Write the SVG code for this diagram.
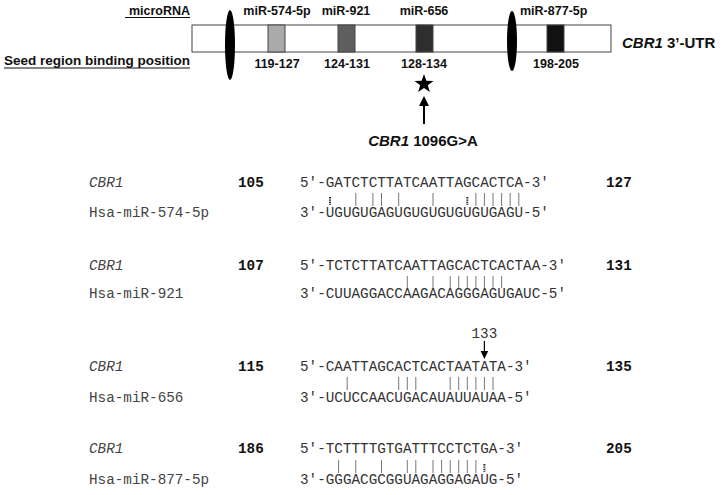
<svg xmlns="http://www.w3.org/2000/svg" width="723" height="495" viewBox="0 0 723 495">
<style>
.hd{font-family:"Liberation Sans",Arial,sans-serif;font-weight:bold;fill:#111}
.seq{font-family:"Liberation Mono","Courier New",monospace;font-size:14.3px;fill:#333}
.lab{font-family:"Liberation Mono","Courier New",monospace;font-size:14.3px;fill:#444}
.num{font-family:"Liberation Mono","Courier New",monospace;font-size:14.3px;font-weight:bold;fill:#111}
.bar{stroke:#777;stroke-width:1}
.dot{stroke:#222;stroke-width:2;stroke-dasharray:1.4 1}
.seg{stroke:#444;stroke-width:1}
</style>
<rect width="723" height="495" fill="#fff"/>
<g id="headers">
<text class="hd" x="190" y="15" font-size="12.5" text-anchor="end">microRNA</text>
<line x1="125" y1="17.5" x2="190" y2="17.5" stroke="#111" stroke-width="1.2"/>
<text class="hd" x="190" y="65" font-size="12.5" text-anchor="end" textLength="186" lengthAdjust="spacingAndGlyphs">Seed region binding position</text>
<line x1="4" y1="68" x2="190" y2="68" stroke="#111" stroke-width="1.2"/>
</g>
<g id="utr">
<rect x="192" y="25" width="419" height="27" fill="#fff" stroke="#444" stroke-width="1"/>
<text class="hd" x="622" y="48" font-size="15"><tspan font-style="italic">CBR1</tspan> 3’-UTR</text>
</g>
<g id="site-574">
<rect class="seg" x="268" y="25" width="17" height="27" fill="#aaaaaa"/>
<text class="hd" x="277" y="15" font-size="12.5" text-anchor="middle">miR-574-5p</text>
<text class="hd" x="277" y="68" font-size="12.5" text-anchor="middle">119-127</text>
</g>
<g id="site-921">
<rect class="seg" x="338" y="25" width="17" height="27" fill="#5e5e5e"/>
<text class="hd" x="346" y="15" font-size="12.5" text-anchor="middle">miR-921</text>
<text class="hd" x="347" y="68" font-size="12.5" text-anchor="middle">124-131</text>
</g>
<g id="site-656">
<rect class="seg" x="416" y="25" width="17" height="27" fill="#2e2e2e"/>
<text class="hd" x="424" y="15" font-size="12.5" text-anchor="middle">miR-656</text>
<text class="hd" x="424" y="68" font-size="12.5" text-anchor="middle">128-134</text>
</g>
<g id="site-877">
<rect class="seg" x="547" y="25" width="17" height="27" fill="#111"/>
<text class="hd" x="520" y="15" font-size="12.5">miR-877-5p</text>
<text class="hd" x="556" y="68" font-size="12.5" text-anchor="middle">198-205</text>
</g>
<g id="ovals">
<ellipse cx="230" cy="45" rx="5" ry="35" fill="#000"/>
<ellipse cx="512" cy="41" rx="5" ry="30" fill="#000"/>
</g>
<g id="snp">
<polygon points="424,74 426.35,80.76 433.51,80.91 427.8,85.24 429.88,92.09 424,88 418.12,92.09 420.2,85.24 414.49,80.91 421.65,80.76" fill="#000"/>
<text class="hd" x="423" y="146" font-size="15" text-anchor="middle"><tspan font-style="italic">CBR1</tspan> 1096G&gt;A</text>
</g>
<g id="connectors">
<line x1="424" y1="124" x2="424" y2="104" stroke="#000" stroke-width="2"/>
<polygon points="424,96 429,106 419,106" fill="#000"/>
<line x1="484.4" y1="341" x2="484.4" y2="352" stroke="#000" stroke-width="1.2"/>
<polygon points="484.4,359 480.6,351 488.2,351" fill="#000"/>
</g>
<g id="align-574">
<text class="lab" x="89" y="187" font-style="italic">CBR1</text>
<text class="num" x="238" y="187">105</text>
<text class="seq" x="300" y="187">5′-GATCTCTTATCAATTAGCACTCA-3′</text>
<text class="num" x="606" y="187">127</text>
<text class="lab" x="89" y="217">Hsa-miR-574-5p</text>
<text class="seq" x="300" y="217">3′-UGUGUGAGUGUGUGUGUGUGAGU-5′</text>
<g>
<line class="dot" x1="330" y1="197" x2="330" y2="205"/>
<line class="dot" x1="467.3" y1="197" x2="467.3" y2="205"/>
<line class="bar" x1="355.8" y1="193" x2="355.8" y2="206"/>
<line class="bar" x1="372.9" y1="193" x2="372.9" y2="206"/>
<line class="bar" x1="381.5" y1="193" x2="381.5" y2="206"/>
<line class="bar" x1="398.7" y1="193" x2="398.7" y2="206"/>
<line class="bar" x1="433" y1="193" x2="433" y2="206"/>
<line class="bar" x1="475.9" y1="193" x2="475.9" y2="206"/>
<line class="bar" x1="484.4" y1="193" x2="484.4" y2="206"/>
<line class="bar" x1="493" y1="193" x2="493" y2="206"/>
<line class="bar" x1="501.6" y1="193" x2="501.6" y2="206"/>
<line class="bar" x1="510.2" y1="193" x2="510.2" y2="206"/>
<line class="bar" x1="518.8" y1="193" x2="518.8" y2="206"/>
</g>
</g>
<g id="align-921">
<text class="lab" x="89" y="270" font-style="italic">CBR1</text>
<text class="num" x="238" y="270">107</text>
<text class="seq" x="300" y="270">5′-TCTCTTATCAATTAGCACTCACTAA-3′</text>
<text class="num" x="606" y="270">131</text>
<text class="lab" x="89" y="298">Hsa-miR-921</text>
<text class="seq" x="300" y="298">3′-CUUAGGACCAAGACAGGGAGUGAUC-5′</text>
<g>
<line class="bar" x1="407.3" y1="276" x2="407.3" y2="288"/>
<line class="bar" x1="433" y1="276" x2="433" y2="288"/>
<line class="bar" x1="450.2" y1="276" x2="450.2" y2="288"/>
<line class="bar" x1="458.7" y1="276" x2="458.7" y2="288"/>
<line class="bar" x1="467.3" y1="276" x2="467.3" y2="288"/>
<line class="bar" x1="475.9" y1="276" x2="475.9" y2="288"/>
<line class="bar" x1="484.4" y1="276" x2="484.4" y2="288"/>
<line class="bar" x1="493" y1="276" x2="493" y2="288"/>
<line class="bar" x1="501.6" y1="276" x2="501.6" y2="288"/>
</g>
</g>
<g id="align-656">
<text class="seq" x="484.4" y="338" text-anchor="middle">133</text>
<text class="lab" x="89" y="371" font-style="italic">CBR1</text>
<text class="num" x="238" y="371">115</text>
<text class="seq" x="300" y="371">5′-CAATTAGCACTCACTAATATA-3′</text>
<text class="num" x="606" y="371">135</text>
<text class="lab" x="89" y="402">Hsa-miR-656</text>
<text class="seq" x="300" y="402">3′-UCUCCAACUGACAUAUUAUAA-5′</text>
<g>
<line class="bar" x1="347.2" y1="377" x2="347.2" y2="390"/>
<line class="bar" x1="398.7" y1="377" x2="398.7" y2="390"/>
<line class="bar" x1="407.3" y1="377" x2="407.3" y2="390"/>
<line class="bar" x1="415.8" y1="377" x2="415.8" y2="390"/>
<line class="bar" x1="450.2" y1="377" x2="450.2" y2="390"/>
<line class="bar" x1="458.7" y1="377" x2="458.7" y2="390"/>
<line class="bar" x1="467.3" y1="377" x2="467.3" y2="390"/>
<line class="bar" x1="475.9" y1="377" x2="475.9" y2="390"/>
<line class="bar" x1="484.4" y1="377" x2="484.4" y2="390"/>
<line class="bar" x1="493" y1="377" x2="493" y2="390"/>
</g>
</g>
<g id="align-877">
<text class="lab" x="89" y="453" font-style="italic">CBR1</text>
<text class="num" x="238" y="453">186</text>
<text class="seq" x="300" y="453">5′-TCTTTTGTGATTTCCTCTGA-3′</text>
<text class="num" x="606" y="453">205</text>
<text class="lab" x="89" y="484">Hsa-miR-877-5p</text>
<text class="seq" x="300" y="484">3′-GGGACGCGGUAGAGGAGAUG-5′</text>
<g>
<line class="bar" x1="338.6" y1="460" x2="338.6" y2="473"/>
<line class="bar" x1="355.8" y1="460" x2="355.8" y2="473"/>
<line class="bar" x1="381.5" y1="460" x2="381.5" y2="473"/>
<line class="bar" x1="407.3" y1="460" x2="407.3" y2="473"/>
<line class="bar" x1="415.8" y1="460" x2="415.8" y2="473"/>
<line class="bar" x1="433" y1="460" x2="433" y2="473"/>
<line class="bar" x1="441.6" y1="460" x2="441.6" y2="473"/>
<line class="bar" x1="450.2" y1="460" x2="450.2" y2="473"/>
<line class="bar" x1="458.7" y1="460" x2="458.7" y2="473"/>
<line class="bar" x1="467.3" y1="460" x2="467.3" y2="473"/>
<line class="bar" x1="475.9" y1="460" x2="475.9" y2="473"/>
<line class="dot" x1="484.4" y1="464" x2="484.4" y2="472"/>
</g>
</g>
</svg>
